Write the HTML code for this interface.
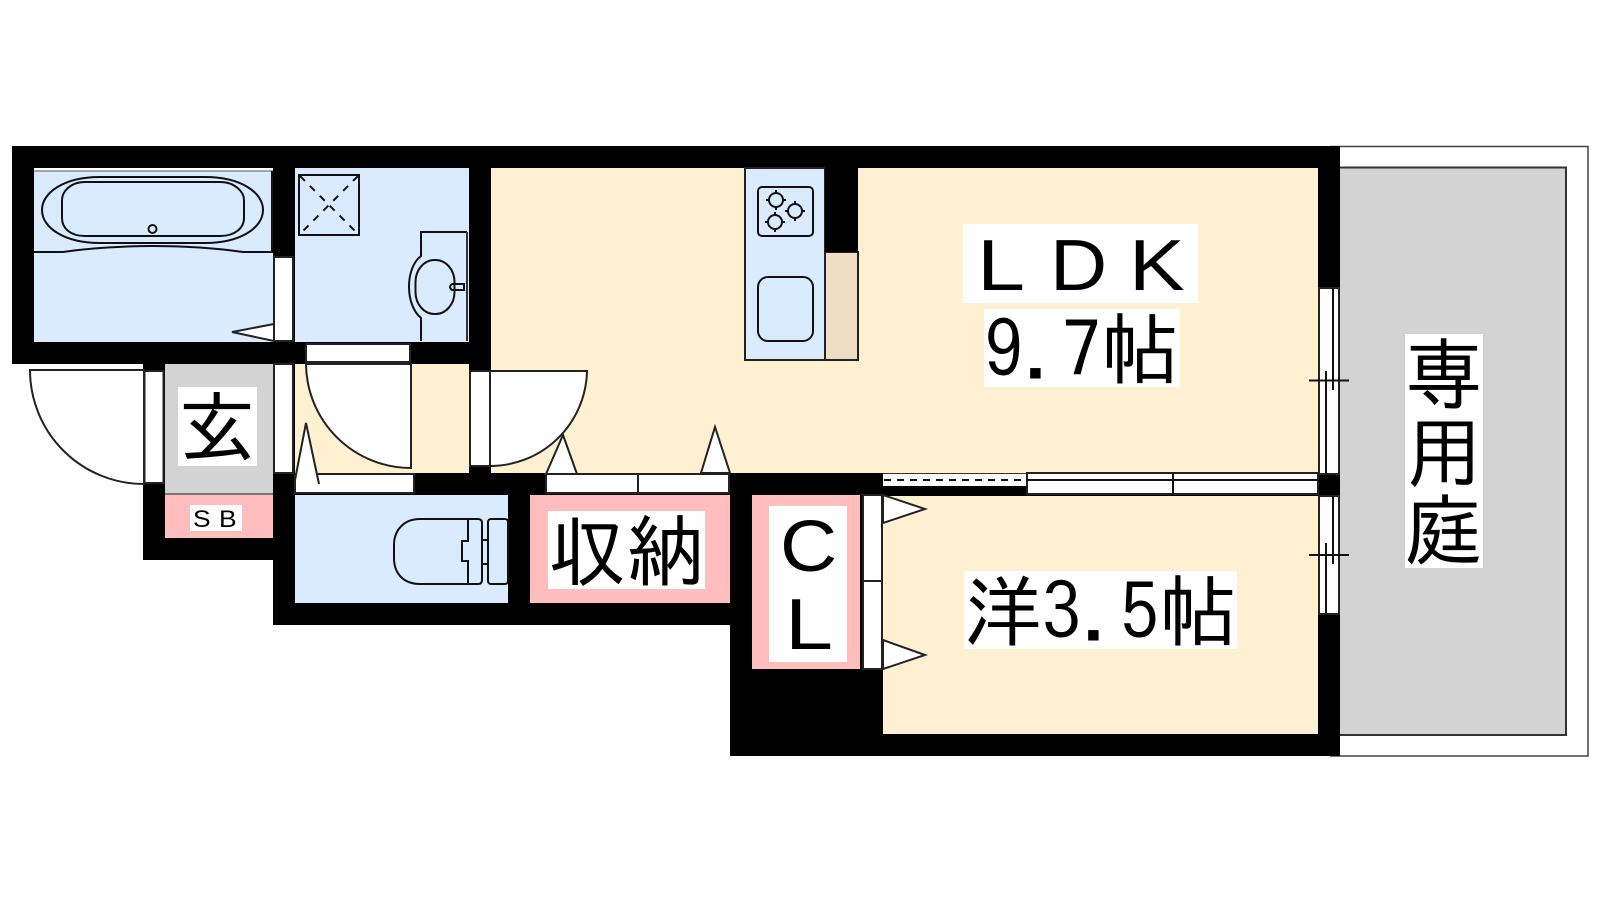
<!DOCTYPE html>
<html><head><meta charset="utf-8"><style>
html,body{margin:0;padding:0;background:#fff;width:1600px;height:900px;overflow:hidden}
svg{display:block}
text{font-family:"IPAGothic","Liberation Sans","Noto Sans CJK JP",sans-serif;font-size:78px;fill:#000}
text.a{font-family:"Liberation Sans",sans-serif;font-size:72px}
.l{fill:none;stroke:#111;stroke-width:2}
.w{fill:#fff;stroke:#222;stroke-width:2}
</style></head><body>
<svg width="1600" height="900" viewBox="0 0 1600 900" xmlns="http://www.w3.org/2000/svg">
<!-- balcony -->
<path d="M1330,146.500H1588V756H1330" fill="#fff" stroke="#444" stroke-width="1.5"/>
<rect x="1335" y="167.500" width="231" height="567.500" fill="#d3d3d3" stroke="#333" stroke-width="2"/>
<!-- footprint -->
<polygon points="12,146 1340,146 1340,756 730,756 730,625 273,625 273,560 143,560 143,364 12,364" fill="#000"/>
<!-- rooms -->
<rect x="34" y="168" width="239" height="174" fill="#dbebff"/>
<rect x="295" y="168" width="174" height="174" fill="#dbebff"/>
<rect x="295" y="364" width="174" height="109" fill="#fef0d0"/>
<rect x="491" y="168" width="827" height="305" fill="#fef0d0"/>
<rect x="165" y="364" width="108" height="129" fill="#d3d3d3"/>
<rect x="165" y="493" width="108" height="2" fill="#777"/>
<rect x="165" y="495" width="108" height="43" fill="#ffbdbd"/>
<rect x="295" y="495" width="213" height="108" fill="#dbebff"/>
<rect x="530" y="495" width="200" height="108" fill="#ffbdbd"/>
<rect x="752" y="495" width="108" height="174" fill="#ffbdbd"/>
<rect x="883" y="496" width="435" height="238" fill="#fef0d0"/>
<!-- bath -->
<rect x="34" y="168" width="239" height="3" fill="#fff"/>
<line x1="34" y1="171" x2="273" y2="171" stroke="#555" stroke-width="1"/>
<path class="l" d="M272,171V252H243C215,248 180,246 152,246C125,246 90,248 63,252H34"/>
<path class="l" d="M100,177H205C240,177 263,192 263,210C263,228 240,243 205,243H100C65,243 42,228 42,210C42,192 65,177 100,177Z"/>
<path class="l" d="M85,182H220C235,182 244,192 244,200V218C244,228 235,236 220,236H85C70,236 62,228 62,218V200C62,192 70,182 85,182Z"/>
<circle class="l" cx="152.500" cy="229" r="4"/>
<polygon class="w" points="232,332 274,324 274,341"/>
<!-- wash -->
<rect class="l" x="299" y="175" width="60" height="60"/>
<path d="M300,176L358,234M358,176L300,234" stroke="#111" stroke-width="2" stroke-dasharray="7 7" fill="none"/>
<path class="l" d="M467,232H421V256C405,268 405,305 421,318V341"/>
<line x1="467" y1="232" x2="467" y2="341" stroke="#333" stroke-width="2"/>
<rect class="l" x="415.500" y="260" width="39" height="54" rx="19" ry="22"/>
<path class="l" d="M464,284H452Q448,287 452,290H464Z" fill="#fff"/>
<!-- door frames -->
<rect class="w" x="274" y="257" width="19" height="84"/>
<rect class="w" x="274" y="364" width="19" height="109"/>
<rect class="w" x="306" y="344" width="104" height="18"/>
<rect class="w" x="144.500" y="371" width="19" height="112"/>
<rect class="w" x="470" y="371" width="20" height="95"/>
<!-- swing doors -->
<path class="w" d="M144,370H30A114,114 0 0 0 144,484Z"/>
<path class="w" d="M306,364A105,105 0 0 0 411,468V364Z" stroke="#111"/>
<path class="w" d="M490,371H587A97,97 0 0 1 490,466Z" stroke="#111"/>
<!-- bottom doors row -->
<rect class="w" x="295" y="474" width="119" height="19"/>
<rect class="w" x="546" y="474" width="92" height="19"/>
<rect class="w" x="638" y="474" width="91" height="19"/>
<rect class="w" x="863" y="495" width="19" height="86"/>
<rect class="w" x="863" y="581" width="19" height="88"/>
<!-- triangles -->
<polyline class="w" points="295,480 306,423 319,484"/>
<polygon class="w" points="546,474 563,435 577,474"/>
<polygon class="w" points="701,473 715,427 730,473"/>
<polygon class="w" points="883,495 925,509 883,523"/>
<polygon class="w" points="883,640 925,655 883,669"/>
<!-- toilet -->
<path class="l" d="M468,519H420C404,519 394,530 394,545V558C394,574 404,584 420,584H468V561H462V541H468Z"/>
<path class="l" d="M468,519H478Q482,519 482,523V580Q482,584 478,584H468"/>
<rect class="l" x="482" y="540" width="6" height="24"/>
<rect class="l" x="488" y="519" width="20" height="65" rx="3"/>
<!-- kitchen -->
<rect x="745" y="168" width="80" height="192" fill="#dbebff" stroke="#222" stroke-width="2"/>
<rect x="825" y="252" width="33" height="108" fill="#efddc4" stroke="#222" stroke-width="2"/>
<rect x="825" y="146" width="33" height="106" fill="#000"/>
<rect class="l" x="758" y="187" width="55" height="49" rx="4"/>
<rect class="l" x="758" y="277" width="55" height="64" rx="10"/>
<circle class="l" cx="776" cy="200" r="7"/><circle class="l" cx="795" cy="211" r="7"/><circle class="l" cx="775" cy="222" r="7"/>
<path class="l" d="M776,190v3M776,207v3M766,200h3M783,200h3M795,201v3M795,218v3M785,211h3M802,211h3M775,212v3M775,229v3M765,222h3M782,222h3"/>
<!-- sliding LDK/洋 -->
<rect x="883" y="473" width="144" height="13" fill="#fff"/>
<line x1="883" y1="473.500" x2="1027" y2="473.500" stroke="#333" stroke-width="1"/>
<line x1="884" y1="480" x2="1026" y2="480" stroke="#111" stroke-width="2" stroke-dasharray="7 6"/>
<rect x="1027" y="473" width="291" height="21" class="w"/>
<line x1="1027" y1="480" x2="1318" y2="480" stroke="#111" stroke-width="2"/>
<line x1="1173" y1="473" x2="1173" y2="494" stroke="#111" stroke-width="2"/>
<!-- windows -->
<rect class="w" x="1319" y="288" width="20" height="186"/>
<rect class="w" x="1319" y="496" width="20" height="118"/>
<path class="l" d="M1326,371V474M1333,288V390M1309,380.500H1349M1326,543V614M1333,496V564M1309,555H1349"/>
<!-- labels -->
<rect x="963" y="224" width="235" height="79" fill="#fff"/>
<text class="a" transform="translate(977,290) scale(1.2,1)">L</text>
<text class="a" transform="translate(1050,290) scale(1.1,1)">D</text>
<text class="a" transform="translate(1129,290) scale(1.16,1)">K</text>
<rect x="984" y="309" width="196" height="78" fill="#fff"/>
<text x="984" y="378">9.7帖</text>
<rect x="964" y="571" width="273" height="78" fill="#fff"/>
<text x="964" y="640">洋3.5帖</text>
<rect x="178" y="387" width="79" height="79" fill="#fff"/>
<text x="178" y="456">玄</text>
<rect x="190" y="505" width="52" height="26" fill="#fff"/>
<text class="a" transform="translate(193,527) scale(1.1,1)" style="font-size:24px">S</text>
<text class="a" transform="translate(219,527) scale(1.1,1)" style="font-size:24px">B</text>
<rect x="548" y="511" width="157" height="78" fill="#fff"/>
<text x="548" y="580">収納</text>
<rect x="769" y="506" width="78" height="156" fill="#fff"/>
<text class="a" transform="translate(780,571) scale(1.1,1)">C</text>
<text class="a" transform="translate(785,649) scale(1.2,1)">L</text>
<rect x="1405" y="334" width="78" height="234" fill="#fff"/>
<text x="1405" y="403">専</text>
<text x="1405" y="481">用</text>
<text x="1405" y="559">庭</text>
</svg>
</body></html>
